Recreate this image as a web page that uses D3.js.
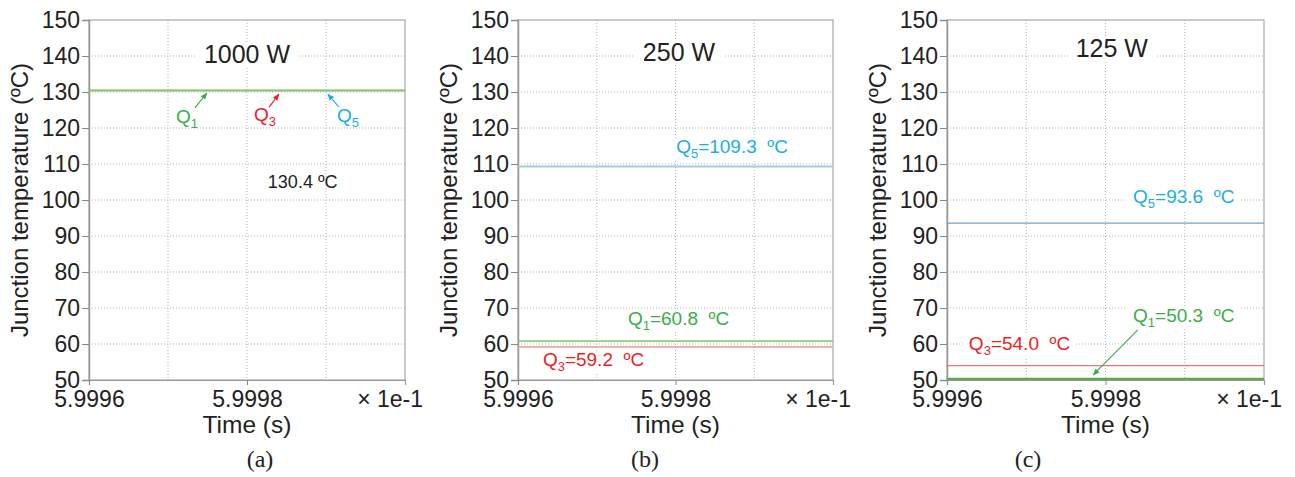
<!DOCTYPE html>
<html>
<head>
<meta charset="utf-8">
<script src="https://cdn.jsdelivr.net/npm/d3@7"></script>
<style>
  html, body { margin: 0; padding: 0; background: #fff; }
  svg { display: block; font-family: "Liberation Sans", Arial, sans-serif; }
</style>
</head>
<body>
<svg id="chart" width="1295" height="477"></svg>
<script>
// ---------------- data ----------------
const seriesNames = ["Q1", "Q3", "Q5"];
const powerLabels = ["1000 W", "250 W", "125 W"];
const panelLetters = ["(a)", "(b)", "(c)"];
const q1Temps = [130.4, 60.8, 50.3];
const q3Temps = [130.4, 59.2, 54.0];
const q5Temps = [130.4, 109.3, 93.6];
const timeRange = [0.59996, 0.60000];          // seconds
const xGridTimes = [0.59997, 0.59998, 0.59999];
const xTickTimes = [0.59996, 0.59998];
const xTickLabels = ["5.9996", "5.9998"];
const xScaleLabel = "× 1e-1";
const yTicks = [50, 60, 70, 80, 90, 100, 110, 120, 130, 140, 150];
const yDomain = [50, 150];

// ---------------- layout / style ----------------
const panelLeft = [89, 518, 947];
const panelRight = [405, 833, 1264];
const plotTop = 20, plotBottom = 380;
const letterX = [260, 645, 1028];

const textColor = { Q1: "#3aae48", Q3: "#ee1c25", Q5: "#1aaee5" };
const lineColors = [
  { Q1: "#86c66e", Q3: "#86c66e", Q5: "#86c66e" },
  { Q1: "#8fcc84", Q3: "#f3a2a6", Q5: "#a6c8ea" },
  { Q1: "#5aad45", Q3: "#f07478", Q5: "#6f9fd6" }
];
const lineWidths = [
  { Q1: 1.6, Q3: 1.6, Q5: 1.6 },
  { Q1: 1.6, Q3: 1.8, Q5: 1.8 },
  { Q1: 2.2, Q3: 1.3, Q5: 1.3 }
];
const drawOrder = ["Q5", "Q3", "Q1"];

// annotation placement (x as fraction of time range, y in °C)
const labelSpecs = [
  { // panel a
    title: { fx: 0.5, t: 138.1 },
    labels: [
      { s: "Q1", text: "", fx: 0.275, t: 121.4, anchor: "start", bg: false },
      { s: "Q3", text: "", fx: 0.522, t: 121.9, anchor: "start", bg: false },
      { s: "Q5", text: "", fx: 0.785, t: 121.7, anchor: "start", bg: false }
    ],
    arrows: [
      { s: "Q1", from: [0.335, 125.6], to: [0.373, 129.7] },
      { s: "Q3", from: [0.570, 125.8], to: [0.601, 129.4] },
      { s: "Q5", from: [0.791, 125.8], to: [0.756, 129.4] }
    ],
    common: { fx: 0.566, t: 103.3 }
  },
  { // panel b
    title: { fx: 0.511, t: 138.6 },
    labels: [
      { s: "Q5", fx: 0.502, t: 113.1, anchor: "start", bg: true },
      { s: "Q1", fx: 0.349, t: 65.3, anchor: "start", bg: true },
      { s: "Q3", fx: 0.079, t: 53.9, anchor: "start", bg: true }
    ],
    arrows: []
  },
  { // panel c
    title: { fx: 0.52, t: 139.7 },
    labels: [
      { s: "Q5", fx: 0.587, t: 99.2, anchor: "start", bg: true },
      { s: "Q1", fx: 0.587, t: 66.1, anchor: "start", bg: true },
      { s: "Q3", fx: 0.069, t: 58.3, anchor: "start", bg: true }
    ],
    arrows: [
      { s: "Q1", from: [0.602, 63.9], to: [0.461, 51.4] }
    ]
  }
];

const svg = d3.select("#chart");
const defs = svg.append("defs");
seriesNames.forEach(s => {
  defs.append("marker")
    .attr("id", "arrow-" + s)
    .attr("viewBox", "0 0 10 10")
    .attr("refX", 9).attr("refY", 5)
    .attr("markerWidth", 7).attr("markerHeight", 7)
    .attr("markerUnits", "userSpaceOnUse")
    .attr("orient", "auto")
    .append("path")
    .attr("d", "M0,1 L10,5 L0,9 Z")
    .attr("fill", textColor[s]);
});

const tempsBySeries = { Q1: q1Temps, Q3: q3Temps, Q5: q5Temps };

powerLabels.forEach((power, i) => {
  const x = d3.scaleLinear().domain(timeRange).range([panelLeft[i], panelRight[i]]);
  const y = d3.scaleLinear().domain(yDomain).range([plotBottom, plotTop]);
  const fxToTime = f => timeRange[0] + f * (timeRange[1] - timeRange[0]);
  const g = svg.append("g");

  // grid
  g.append("g").selectAll("line").data(yTicks.slice(1, -1)).join("line")
    .attr("x1", panelLeft[i]).attr("x2", panelRight[i])
    .attr("y1", d => y(d)).attr("y2", d => y(d))
    .attr("stroke", "#b4b4b4").attr("stroke-width", 1)
    .attr("stroke-dasharray", "1,2");
  g.append("g").selectAll("line").data(xGridTimes).join("line")
    .attr("x1", d => x(d)).attr("x2", d => x(d))
    .attr("y1", plotTop).attr("y2", plotBottom)
    .attr("stroke", "#b4b4b4").attr("stroke-width", 1)
    .attr("stroke-dasharray", "1,2");

  // frame
  g.append("rect")
    .attr("x", panelLeft[i]).attr("y", plotTop)
    .attr("width", panelRight[i] - panelLeft[i]).attr("height", plotBottom - plotTop)
    .attr("fill", "none").attr("stroke", "#a8a8a8").attr("stroke-width", 1.2);

  // y axis
  const yAxis = d3.axisLeft(y).tickValues(yTicks).tickSize(7).tickPadding(2);
  const ya = g.append("g").attr("transform", `translate(${panelLeft[i]},0)`).call(yAxis);
  ya.select(".domain").attr("stroke", "#999").attr("stroke-width", 1.5);
  ya.selectAll(".tick line").attr("stroke", "#888");
  ya.selectAll(".tick text").attr("fill", "#222").style("font-size", "23px")
    .style("font-family", "'Liberation Sans', Arial, sans-serif");

  // x axis
  const xAxis = d3.axisBottom(x).tickValues(xTickTimes)
    .tickFormat((d, k) => xTickLabels[k]).tickSize(5).tickPadding(6);
  const xa = g.append("g").attr("transform", `translate(0,${plotBottom})`).call(xAxis);
  xa.select(".domain").attr("stroke", "#999").attr("stroke-width", 1.2);
  xa.selectAll(".tick line").attr("stroke", "#888");
  xa.selectAll(".tick text").attr("fill", "#222").style("font-size", "23px")
    .style("font-family", "'Liberation Sans', Arial, sans-serif");

  g.append("text")
    .attr("x", panelRight[i] + 18).attr("y", 407)
    .attr("text-anchor", "end").attr("fill", "#222")
    .style("font-size", "23px").text(xScaleLabel);

  // axis titles
  g.append("text")
    .attr("x", (panelLeft[i] + panelRight[i]) / 2).attr("y", 433)
    .attr("text-anchor", "middle").attr("fill", "#222")
    .style("font-size", "24.5px").text("Time (s)");
  g.append("text")
    .attr("transform", `translate(${panelLeft[i] - 61},200) rotate(-90)`)
    .attr("text-anchor", "middle").attr("fill", "#222")
    .style("font-size", "24px").text("Junction temperature (ºC)");

  // panel letter
  g.append("text")
    .attr("x", letterX[i]).attr("y", 467)
    .attr("text-anchor", "middle").attr("fill", "#222")
    .style("font-family", "'Liberation Serif', 'Times New Roman', serif")
    .style("font-size", "24px").text(panelLetters[i]);

  // series lines
  const line = d3.line().x(d => x(d[0])).y(d => y(d[1]));
  drawOrder.forEach(s => {
    const v = tempsBySeries[s][i];
    g.append("path")
      .datum([[timeRange[0], v], [timeRange[1], v]])
      .attr("d", line)
      .attr("fill", "none")
      .attr("stroke", lineColors[i][s])
      .attr("stroke-width", lineWidths[i][s]);
  });

  const spec = labelSpecs[i];

  function addBg(textSel, pad) {
    const bb = textSel.node().getBBox();
    g.insert("rect", () => textSel.node())
      .attr("x", bb.x - pad).attr("y", bb.y + 2)
      .attr("width", bb.width + 2 * pad).attr("height", bb.height - 3)
      .attr("fill", "#fff");
  }

  // power title
  const tt = g.append("text")
    .attr("x", x(fxToTime(spec.title.fx))).attr("y", y(spec.title.t))
    .attr("text-anchor", "middle").attr("fill", "#222")
    .style("font-size", "25px").text(power);
  addBg(tt, 8);

  // series labels
  spec.labels.forEach(l => {
    const t = g.append("text")
      .attr("x", x(fxToTime(l.fx))).attr("y", y(l.t))
      .attr("text-anchor", l.anchor)
      .attr("fill", textColor[l.s])
      .style("font-size", "19px");
    t.append("tspan").text("Q");
    t.append("tspan").attr("dy", 5).style("font-size", "13px").text(l.s.slice(1));
    if (l.bg) {
      const v = tempsBySeries[l.s][i];
      t.append("tspan").attr("dy", -5).text("=" + v.toFixed(1) + "\u00a0\u00a0ºC");
      addBg(t, 6);
    }
  });

  spec.arrows.forEach(a => {
    g.append("line")
      .attr("x1", x(fxToTime(a.from[0]))).attr("y1", y(a.from[1]))
      .attr("x2", x(fxToTime(a.to[0]))).attr("y2", y(a.to[1]))
      .attr("stroke", textColor[a.s]).attr("stroke-width", 1.1)
      .attr("marker-end", `url(#arrow-${a.s})`);
  });

  if (spec.common) {
    g.append("text")
      .attr("x", x(fxToTime(spec.common.fx))).attr("y", y(spec.common.t))
      .attr("fill", "#222").style("font-size", "18px")
      .text(q1Temps[i].toFixed(1) + " ºC");
  }
});
</script>
</body>
</html>
